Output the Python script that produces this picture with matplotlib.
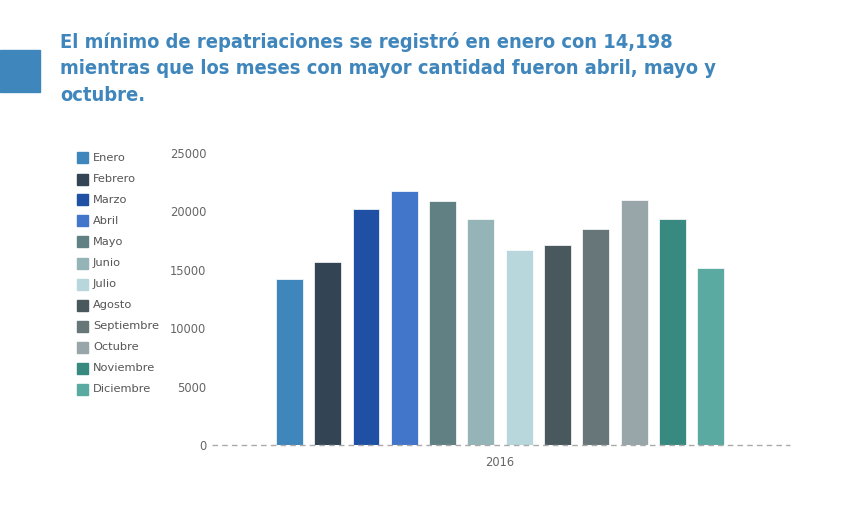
import matplotlib.pyplot as plt
import matplotlib.patches as mpatches
import numpy as np

meses = ["Enero", "Febrero", "Marzo", "Abril", "Mayo", "Junio", "Julio",
         "Agosto", "Septiembre", "Octubre", "Noviembre", "Diciembre"]
valores = [14198, 15650, 20200, 21750, 20900, 19350, 16700,
           17100, 18500, 20950, 19350, 15150]
colores = ["#3f86bc", "#334455", "#2050a4", "#4276ca", "#608084", "#95b4b8",
           "#b8d7dc", "#48585c", "#677779", "#98a6aa", "#388a80", "#5aaaa2"]
yticks = [0, 5000, 10000, 15000, 20000, 25000]

fig = plt.figure(figsize=(8.49, 5.11), dpi=100)
W, H = 849, 511

# title block
fig.patches.append(mpatches.Rectangle((0, 1 - 92 / H), 40 / W, 42 / H,
                                      transform=fig.transFigure,
                                      color="#3f86bc", zorder=0))
titulo = ("El mínimo de repatriaciones se registró en enero con 14,198\n"
          "mientras que los meses con mayor cantidad fueron abril, mayo y\n"
          "octubre.")
t = fig.text(60 / W, 1 - 32 / H, titulo, ha="left", va="top",
             family="DejaVu Sans", fontstretch="condensed", fontweight="bold",
             fontsize=18, color="#3f86bc", linespacing=1.5)
# shrink title to the width it has in the original (~660 px)
r = fig.canvas.get_renderer()
w = t.get_window_extent(r).width
t.set_fontsize(18 * 660 / w)

ax = fig.add_axes([212 / W, 1 - 445 / H, 578 / W, 292 / H])
x = np.arange(len(meses))
ax.bar(x, valores, width=0.7, color=colores, edgecolor="white", linewidth=0.5)
ax.set_xlim(-2.02, 13.07)
ax.set_ylim(0, 25000)
ax.set_yticks(yticks)
ax.set_xticks([5.5])
ax.set_xticklabels(["2016"])
ax.tick_params(length=0, labelsize=8.3, labelcolor="#666666")
ax.tick_params(axis="y", pad=4)
ax.tick_params(axis="x", pad=8)
for s in ax.spines.values():
    s.set_visible(False)
ax.axhline(0, color="#aaaaaa", linestyle=(0, (4, 3)), linewidth=1, clip_on=False)

# legend
for i, (m, c) in enumerate(zip(meses, colores)):
    yy = 1 - (158 + i * 21) / H
    fig.patches.append(mpatches.Rectangle((77 / W, yy - 5.5 / H), 11 / W, 11 / H,
                                          transform=fig.transFigure, color=c))
    fig.text(93 / W, yy, m, ha="left", va="center", fontsize=8.2, color="#555555")

fig.savefig("out.png", dpi=100)
